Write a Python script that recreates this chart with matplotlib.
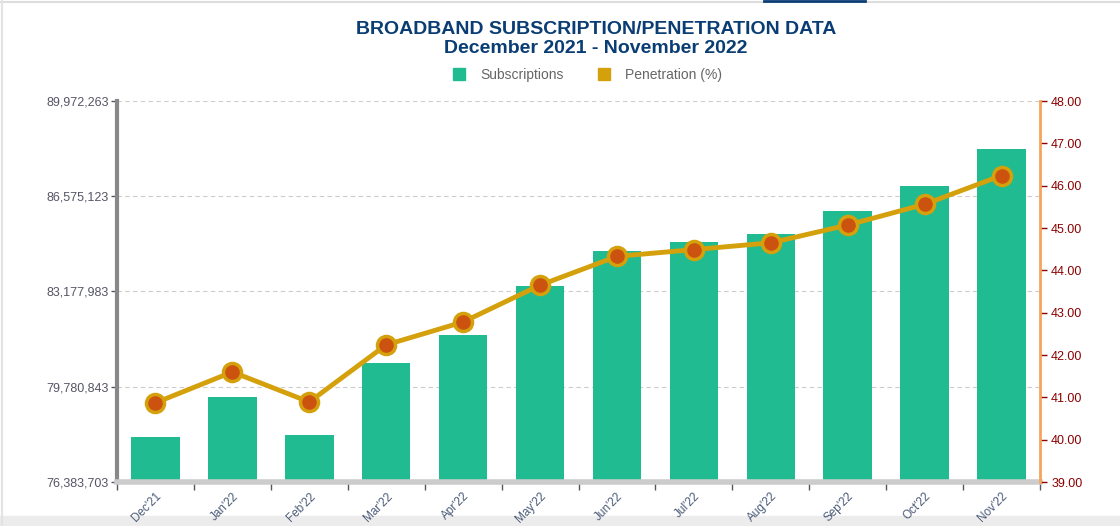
import numpy as np
import matplotlib.pyplot as plt
from matplotlib.patches import Rectangle
from matplotlib.lines import Line2D

months = ["Dec'21", "Jan'22", "Feb'22", "Mar'22", "Apr'22", "May'22",
          "Jun'22", "Jul'22", "Aug'22", "Sep'22", "Oct'22", "Nov'22"]
subscriptions = [77992875, 79423249, 78064393, 80639089, 81640362, 83356779,
                 84608358, 84930192, 85216267, 86038732, 86932703, 88255813]
penetration = [40.87, 41.60, 40.89, 42.24, 42.78, 43.65,
               44.33, 44.49, 44.65, 45.07, 45.56, 46.24]
left_ticks = [76383703, 79780843, 83177983, 86575123, 89972263]
right_ticks = [39, 40, 41, 42, 43, 44, 45, 46, 47, 48]

plt.rcParams['font.family'] = ['Liberation Sans', 'DejaVu Sans']

fig = plt.figure(figsize=(11.2, 5.26), dpi=100)
ax = fig.add_axes([117/1120, 1-482/526, (1040-117)/1120, (482-101)/526])
ax2 = ax.twinx()

x = np.arange(len(months))
ax.bar(x, subscriptions, width=0.63, color='#20bb91', zorder=2)
ax.set_xlim(-0.5, len(months)-0.5)
ax.set_ylim(left_ticks[0], left_ticks[-1])
ax.set_yticks(left_ticks)
ax.set_yticklabels([f"{v:,}" for v in left_ticks], fontsize=9, color='#555566')
ax.grid(axis='y', color='#cccccc', linestyle=(0, (4, 3)), linewidth=0.8, zorder=0)
ax.set_axisbelow(True)

ax.set_xticks(x)
ax.set_xticklabels(months, rotation=45, ha='right', rotation_mode='anchor',
                   fontsize=8.5, color='#4a5a78')
ax.tick_params(axis='x', length=0, pad=6)
ax.set_xticks(np.arange(-0.5, len(months)), minor=True)
ax.tick_params(axis='x', which='minor', length=6, width=1, color='#555566', direction='out')
ax.tick_params(axis='y', length=4, width=1, color='#555566', pad=2)

for s in ['top', 'right']:
    ax.spines[s].set_visible(False)
ax.spines['left'].set_color('#888888')
ax.spines['left'].set_linewidth(3)
ax.spines['bottom'].set_color('#cccccc')
ax.spines['bottom'].set_linewidth(4)

ax2.plot(x, penetration, color='#d4a00c', linewidth=3.5, zorder=3,
         marker='o', markersize=13, markerfacecolor='#cc5210',
         markeredgecolor='#d4a00c', markeredgewidth=2.5)
ax2.set_ylim(39, 48)
ax2.set_yticks(right_ticks)
ax2.set_yticklabels([f"{v:.2f}" for v in right_ticks], fontsize=9, color='#8b0000')
ax2.tick_params(axis='y', length=5, width=1, color='#8b0000', pad=3)
for s in ['top', 'left', 'bottom']:
    ax2.spines[s].set_visible(False)
ax2.spines['right'].set_color('#f7a35c')
ax2.spines['right'].set_linewidth(2)

fig.text(0.532, 1-29.5/526, "BROADBAND SUBSCRIPTION/PENETRATION DATA", ha='center', va='center',
         fontsize=14, fontweight='bold', color='#0a3d73')
fig.text(0.532, 1-48.5/526, "December 2021 - November 2022", ha='center', va='center',
         fontsize=14, fontweight='bold', color='#0a3d73')

handles = [Line2D([], [], marker='s', linestyle='none', markersize=8, color='#20bb91'),
           Line2D([], [], marker='s', linestyle='none', markersize=8, color='#d4a00c')]
fig.legend(handles, ['Subscriptions', 'Penetration (%)'], loc='center',
           bbox_to_anchor=(0.521, 1-75/526), ncol=2, frameon=False, fontsize=10,
           labelcolor='#666666', handletextpad=0.5, columnspacing=1.9)

# page frame bits
fig.add_artist(Line2D([0, 1], [1-1.5/526, 1-1.5/526], color='#dddddd', linewidth=1.5))
fig.add_artist(Line2D([1.5/1120, 1.5/1120], [0, 1], color='#e3e3e3', linewidth=1.5))
fig.add_artist(Line2D([764/1120, 865/1120], [1-0.8/526, 1-0.8/526], color='#0a3d73', linewidth=2))
fig.add_artist(Rectangle((0, 0), 1, 10/526, transform=fig.transFigure, color='#ececec', zorder=-1))

fig.savefig('out.png', dpi=100)
